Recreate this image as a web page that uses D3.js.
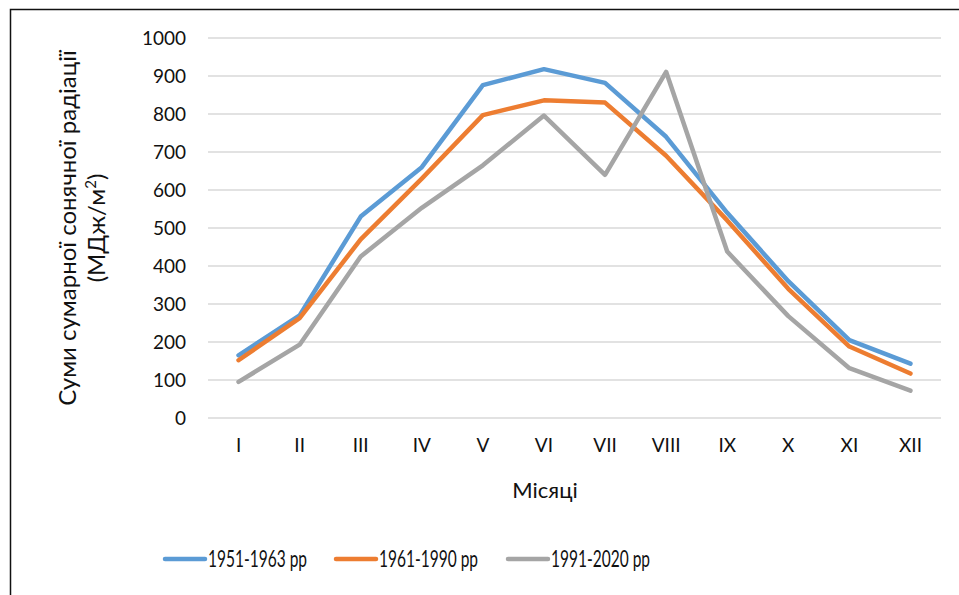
<!DOCTYPE html>
<html>
<head>
<meta charset="utf-8">
<script src="https://cdn.jsdelivr.net/npm/d3@7"></script>
<style>
  body { margin: 0; background: #fff; }
  text { font-family: Lato, "Open Sans", sans-serif; fill: #111; }
</style>
</head>
<body>
<svg id="chart" width="959" height="595"></svg>
<script>
// month labels and series values (МДж/м²)
const months = ['I', 'II', 'III', 'IV', 'V', 'VI', 'VII', 'VIII', 'IX', 'X', 'XI', 'XII'];
const s1951 = [165, 270, 530, 660, 876, 918, 882, 740, 540, 360, 205, 143];
const s1961 = [152, 263, 470, 630, 797, 836, 830, 690, 520, 340, 188, 117];
const s1991 = [95, 193, 425, 553, 665, 796, 640, 911, 438, 268, 131, 72];
const yTicks = [0, 100, 200, 300, 400, 500, 600, 700, 800, 900, 1000];

const series = [
  { name: '1951-1963 pp', values: s1951, color: '#5b9bd5' },
  { name: '1961-1990 pp', values: s1961, color: '#ed7d31' },
  { name: '1991-2020 pp', values: s1991, color: '#a5a5a5' }
];

let svg = d3.select('#chart');

// outer frame (right/bottom edges fall off the picture)
svg.append('rect')
  .attr('x', 10.5).attr('y', 9.5)
  .attr('width', 1000).attr('height', 1000)
  .attr('fill', 'none').attr('stroke', '#111').attr('stroke-width', 1.5);

let xScale = d3.scaleBand()
  .domain(months)
  .range([208, 941]);

let yScale = d3.scaleLinear()
  .domain([0, 1000])
  .range([418, 38]);

// gridlines
svg.append('g')
  .selectAll('line')
  .data(yTicks)
  .enter()
    .append('line')
    .attr('x1', 208).attr('x2', 941)
    .attr('y1', d => yScale(d)).attr('y2', d => yScale(d))
    .attr('stroke', '#d9d9d9').attr('stroke-width', 1.5);

// y axis labels
let yAxis = svg.append('g')
  .attr('transform', 'translate(186, 0)')
  .call(d3.axisLeft(yScale).tickValues(yTicks).tickFormat(d3.format('d')).tickSize(0).tickPadding(0));
yAxis.select('.domain').remove();
yAxis.selectAll('text')
  .style('font-size', '19px')
  .style('font-family', 'Lato, "Open Sans", sans-serif')
  .attr('fill', '#111');

// x axis labels
let xAxis = svg.append('g')
  .attr('transform', 'translate(0, 438)')
  .call(d3.axisBottom(xScale).tickSize(0).tickPadding(0));
xAxis.select('.domain').remove();
xAxis.selectAll('text')
  .style('font-size', '19px')
  .style('font-family', 'Lato, "Open Sans", sans-serif')
  .attr('fill', '#111');

// lines
let line = d3.line()
  .x((d, i) => xScale(months[i]) + xScale.bandwidth() / 2)
  .y(d => yScale(d));

svg.append('g')
  .selectAll('path')
  .data(series)
  .enter()
    .append('path')
    .attr('d', d => line(d.values))
    .attr('fill', 'none')
    .attr('stroke', d => d.color)
    .attr('stroke-width', 4.5)
    .attr('stroke-linejoin', 'round')
    .attr('stroke-linecap', 'round');

// axis titles
svg.append('text')
  .attr('transform', 'translate(76, 228) rotate(270)')
  .style('text-anchor', 'middle')
  .style('font-size', '24px')
  .text('Суми сумарної сонячної радіації');
let unit = svg.append('text')
  .attr('transform', 'translate(105, 228) rotate(270)')
  .style('text-anchor', 'middle')
  .style('font-size', '24px');
unit.append('tspan').text('(МДж/м');
unit.append('tspan').attr('baseline-shift', 'super').style('font-size', '15px').text('2');
unit.append('tspan').text(')');

svg.append('text')
  .attr('x', 545).attr('y', 498)
  .style('text-anchor', 'middle')
  .style('font-size', '22px')
  .text('Місяці');

// legend
let legendX = [163, 334, 506];
let lg = svg.append('g')
  .selectAll('g')
  .data(series)
  .enter()
    .append('g')
    .attr('transform', (d, i) => `translate(${legendX[i]}, 559)`);
lg.append('line')
  .attr('x1', 2).attr('x2', 42)
  .attr('stroke', d => d.color)
  .attr('stroke-width', 4.5)
  .attr('stroke-linecap', 'round');
lg.append('text')
  .attr('x', 45).attr('y', 8)
  .attr('textLength', 99)
  .attr('lengthAdjust', 'spacingAndGlyphs')
  .style('font-size', '23px')
  .text(d => d.name);
</script>
</body>
</html>
